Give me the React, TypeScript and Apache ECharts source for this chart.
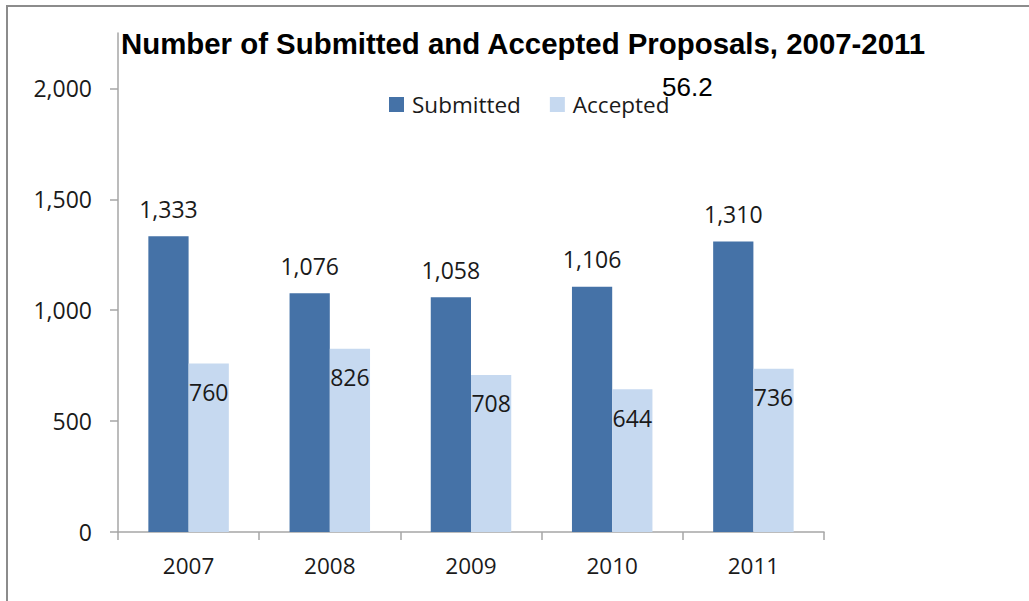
import React, { useEffect, useRef } from "react";
import * as echarts from "echarts";

const categories = ["2007", "2008", "2009", "2010", "2011"];
const submitted = [1333, 1076, 1058, 1106, 1310];
const accepted = [760, 826, 708, 644, 736];
const yTicks = [0, 500, 1000, 1500, 2000];
const titleText = "Number of Submitted and Accepted Proposals, 2007-2011";
const strayText = "56.2";

const FONT = "Open Sans";
const TITLE_FONT = "Liberation Sans";
const AXIS_COLOR = "#A6A6A6";
const TEXT_COLOR = "#1a1a1a";

const fmt = (v: number) => v.toLocaleString("en-US");

export default function App() {
  const ref = useRef<HTMLDivElement>(null);
  useEffect(() => {
    if (!ref.current) return;
    const chart = echarts.init(ref.current, null, { renderer: "svg" });
    chart.setOption({
      animation: false,
      backgroundColor: "#fff",
      textStyle: { fontFamily: FONT },
      title: {
        text: titleText,
        left: 121,
        top: 29,
        padding: 0,
        textStyle: { fontFamily: TITLE_FONT, fontWeight: "bold", fontSize: 29.4, color: "#000" },
      },
      legend: {
        left: 389,
        top: 93,
        padding: 0,
        icon: "rect",
        itemWidth: 15,
        itemHeight: 15,
        itemGap: 29,
        textStyle: { fontFamily: FONT, fontSize: 22.5, color: TEXT_COLOR, padding: [0, 0, 0, 3] },
        data: ["Submitted", "Accepted"],
      },
      grid: { left: 118, right: 205, top: 33, bottom: 69, containLabel: false },
      xAxis: {
        type: "category",
        data: categories,
        axisLine: { lineStyle: { color: AXIS_COLOR, width: 1.5 } },
        axisTick: { show: true, length: 8, lineStyle: { color: AXIS_COLOR, width: 1.5 } },
        axisLabel: { fontFamily: FONT, fontSize: 22.5, color: TEXT_COLOR, margin: 22 },
      },
      yAxis: {
        type: "value",
        min: 0,
        max: 2250,
        interval: 500,
        splitLine: { show: false },
        axisLine: { show: true, lineStyle: { color: AXIS_COLOR, width: 1.5 } },
        axisTick: {
          show: true,
          length: 8,
          customValues: yTicks,
          lineStyle: { color: AXIS_COLOR, width: 1.5 },
        },
        axisLabel: {
          fontFamily: FONT,
          fontSize: 23,
          color: TEXT_COLOR,
          margin: 26,
          customValues: yTicks,
          formatter: (v: number) => (yTicks.includes(v) ? fmt(v) : ""),
        },
      },
      series: [
        {
          name: "Submitted",
          type: "bar",
          data: submitted,
          barGap: "0%",
          barCategoryGap: "43%",
          itemStyle: { color: "#4572A7" },
          label: {
            show: true,
            position: "top",
            distance: 16,
            fontFamily: FONT,
            fontSize: 23,
            color: TEXT_COLOR,
            formatter: (p: any) => fmt(p.value),
          },
        },
        {
          name: "Accepted",
          type: "bar",
          data: accepted,
          itemStyle: { color: "#C6D9F0" },
          label: {
            show: true,
            position: "insideTop",
            distance: 17,
            fontFamily: FONT,
            fontSize: 23,
            color: TEXT_COLOR,
            formatter: (p: any) => fmt(p.value),
          },
        },
      ],
      graphic: [
        {
          type: "rect",
          shape: { x: 7, y: 6, width: 1100, height: 700 },
          style: { fill: "none", stroke: "#8C8C8C", lineWidth: 2 },
          silent: true,
        },
        {
          type: "text",
          left: 662,
          top: 74,
          style: { text: strayText, fontFamily: TITLE_FONT, fontSize: 26, fill: "#000" },
        },
      ],
    });
    return () => chart.dispose();
  }, []);
  return (
    <div style={{ position: "absolute", left: 0, top: 0, width: 1029, height: 601, background: "#fff" }}>
      <div ref={ref} style={{ width: 1029, height: 601 }} />
    </div>
  );
}
